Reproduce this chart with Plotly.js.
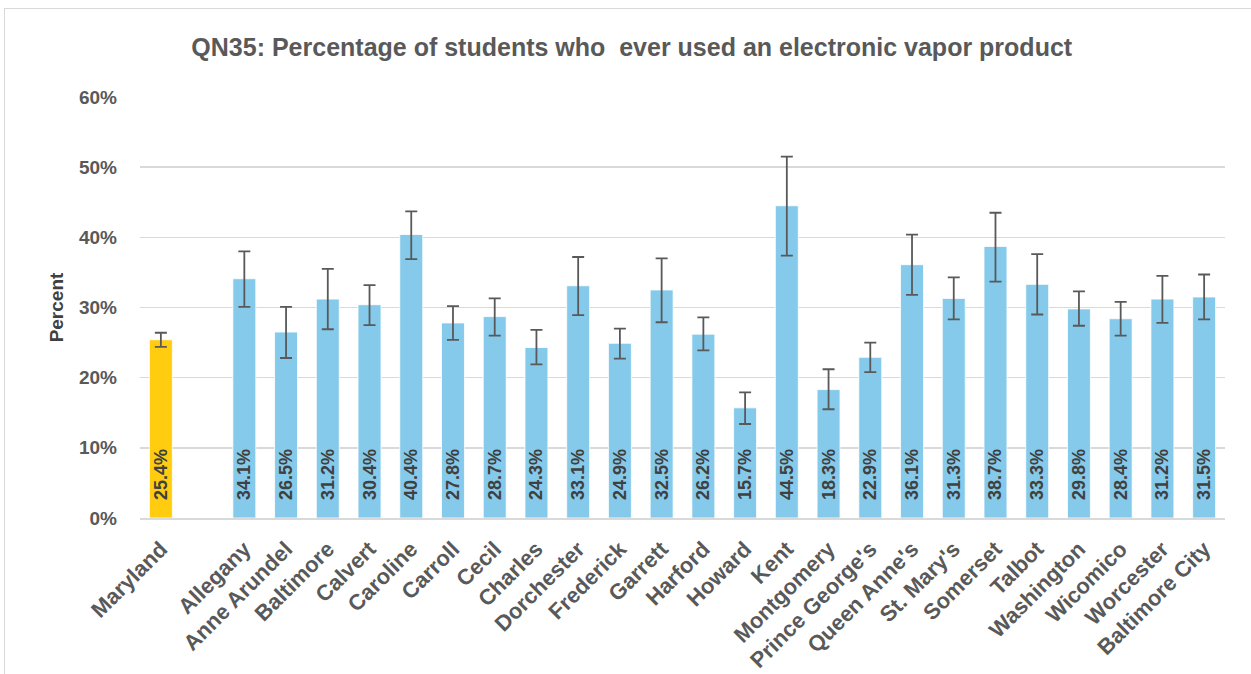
<!DOCTYPE html>
<html>
<head>
<meta charset="utf-8">
<script src="https://cdn.plot.ly/plotly-3.0.1.min.js"></script>
<style>
html,body{margin:0;padding:0;background:#fff;overflow:hidden;}
#frame{position:absolute;left:4px;top:8px;width:1270px;height:690px;border:1.5px solid #d9d9d9;}
#chart{position:absolute;left:0;top:0;width:1251px;height:674px;}
</style>
</head>
<body>
<div id="frame"></div>
<div id="chart"></div>
<script>
const categories = ["Maryland"," ","Allegany","Anne Arundel","Baltimore","Calvert","Caroline","Carroll","Cecil","Charles","Dorchester","Frederick","Garrett","Harford","Howard","Kent","Montgomery","Prince George's","Queen Anne's","St. Mary's","Somerset","Talbot","Washington","Wicomico","Worcester","Baltimore City"];
const values = [25.4,null,34.1,26.5,31.2,30.4,40.4,27.8,28.7,24.3,33.1,24.9,32.5,26.2,15.7,44.5,18.3,22.9,36.1,31.3,38.7,33.3,29.8,28.4,31.2,31.5];
const upperCI = [26.4,null,38.0,30.1,35.5,33.2,43.7,30.2,31.3,26.8,37.2,27.0,37.0,28.6,17.9,51.5,21.2,25.0,40.4,34.3,43.5,37.6,32.3,30.8,34.5,34.7];
const lowerCI = [24.4,null,30.1,22.8,26.9,27.5,36.9,25.4,26.0,21.9,28.9,22.7,27.9,23.9,13.4,37.4,15.5,20.8,31.8,28.3,33.7,29.0,27.4,26.0,27.8,28.3];

const errPlus = values.map((v,i)=> v===null ? null : upperCI[i]-v);
const errMinus = values.map((v,i)=> v===null ? null : v-lowerCI[i]);
const labels = values.map(v=> v===null ? "" : "\u00a0\u00a0\u00a0" + v.toFixed(1)+"%");
const colors = categories.map(c=> c==="Maryland" ? "#FFCC0F" : "#85CAEA");

const FONT = "Liberation Sans, Arial, sans-serif";

const trace = {
  type:"bar",
  x: categories,
  y: values,
  marker:{color:colors, line:{color:"#ffffff", width:0.8}},
  text: labels,
  textposition:"inside",
  insidetextanchor:"start",
  textangle:-90,
  constraintext:"none",
  textfont:{family:FONT, size:18, color:"#404040", weight:"bold"},
  cliponaxis:false,
  error_y:{type:"data", symmetric:false, array:errPlus, arrayminus:errMinus, color:"#595959", thickness:1.8, width:6},
  hoverinfo:"x+y"
};

const layout = {
  width:1251, height:674,
  margin:{l:140, r:26, t:97, b:156},
  paper_bgcolor:"rgba(0,0,0,0)",
  plot_bgcolor:"#ffffff",
  bargap:0.45,
  showlegend:false,
  title:{text:"QN35: Percentage of students who  ever used an electronic vapor product",
    font:{family:FONT, size:25, color:"#595959", weight:"bold"},
    x:0.505, xanchor:"center", y:0.93, yanchor:"middle"},
  xaxis:{
    type:"category", categoryorder:"array", categoryarray:categories,
    tickangle:-45,
    tickfont:{family:FONT, size:22, color:"#595959", weight:"bold"},
    showgrid:false, showline:true, linecolor:"#d9d9d9", linewidth:1.5,
    ticks:"", ticklabelstandoff:8, ticklabelshift:0, fixedrange:true
  },
  yaxis:{
    range:[0,60], dtick:10, ticksuffix:"%",
    tickfont:{family:FONT, size:19, color:"#595959", weight:"bold"},
    gridcolor:"#d9d9d9", gridwidth:1.5, zeroline:false,
    showline:false, ticks:"", ticklabelstandoff:22,
    title:{text:"Percent", font:{family:FONT, size:19, color:"#404040", weight:"bold"}, standoff:10},
    fixedrange:true
  }
};

Plotly.newPlot("chart",[trace],layout,{displayModeBar:false, staticPlot:true});
</script>
</body>
</html>
